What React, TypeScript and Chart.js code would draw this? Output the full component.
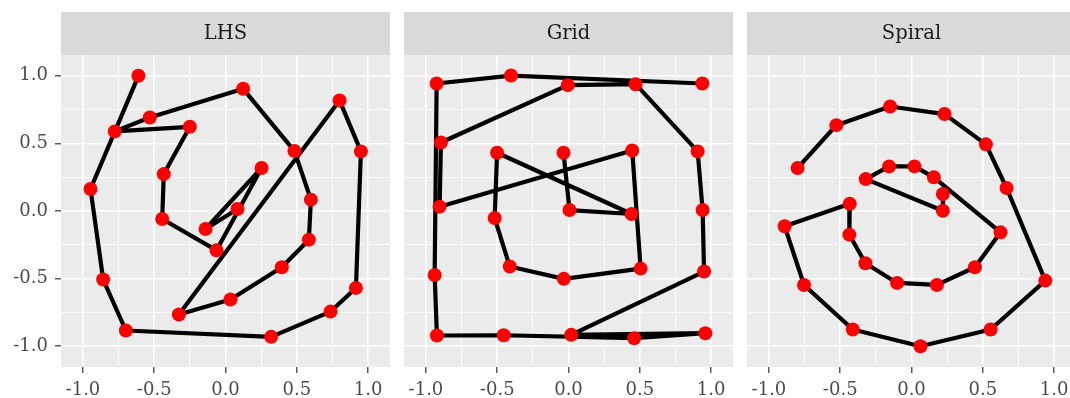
import React, { useEffect, useRef } from "react";
import { Chart, registerables } from "chart.js";

Chart.register(...registerables);

// ---- Data ----
const panelTitles = ["LHS", "Grid", "Spiral"];

const lhsX = [-0.611, -0.947, -0.858, -0.699, 0.320, 0.737, 0.915, 0.950, 0.800, -0.327, 0.035, 0.395, 0.585, 0.599, 0.484, 0.124, -0.531, -0.777, -0.250, -0.433, -0.444, -0.063, 0.253, -0.140, 0.084];
const lhsY = [1.000, 0.163, -0.507, -0.884, -0.931, -0.744, -0.569, 0.441, 0.818, -0.766, -0.655, -0.416, -0.212, 0.084, 0.443, 0.904, 0.692, 0.589, 0.623, 0.273, -0.059, -0.291, 0.318, -0.133, 0.015];

const gridX = [-0.035, 0.007, 0.443, -0.501, -0.518, -0.412, -0.033, 0.506, 0.447, -0.904, -0.895, -0.005, 0.471, 0.906, 0.941, 0.951, 0.019, 0.960, 0.461, -0.454, -0.923, -0.939, -0.925, -0.403, 0.939];
const gridY = [0.431, 0.007, -0.022, 0.431, -0.052, -0.411, -0.502, -0.426, 0.448, 0.032, 0.507, 0.931, 0.938, 0.441, 0.007, -0.448, -0.916, -0.904, -0.941, -0.919, -0.921, -0.473, 0.943, 1.002, 0.943];

const spiralX = [-0.799, -0.527, -0.150, 0.232, 0.522, 0.667, 0.939, 0.555, 0.063, -0.412, -0.754, -0.890, -0.433, -0.436, -0.323, -0.101, 0.178, 0.445, 0.625, 0.157, 0.021, -0.157, -0.321, 0.220, 0.220];
const spiralY = [0.318, 0.635, 0.773, 0.717, 0.493, 0.170, -0.515, -0.877, -1.000, -0.877, -0.547, -0.113, 0.054, -0.175, -0.387, -0.532, -0.547, -0.416, -0.158, 0.249, 0.330, 0.330, 0.236, 0.002, 0.126];

const axisMin = -1.154;
const axisMax = 1.154;
const tickStep = 0.25;

const seriesX = [lhsX, gridX, spiralX];
const seriesY = [lhsY, gridY, spiralY];

// ---- Layout ----
const panelLefts = [0, 404, 747];
const panelWidths = [390, 329, 329];
const yAxisWidths = [61, 0, 0];
const H = 398;
const FONT = '"DejaVu Serif", "Liberation Serif", serif';

const isMajor = (v: number) => Math.abs(v * 2 - Math.round(v * 2)) < 1e-6;

const stripPlugin = {
  id: "strip",
  beforeDraw(chart: any, _args: any, opts: any) {
    const { ctx, chartArea } = chart;
    ctx.save();
    ctx.fillStyle = "#EBEBEB";
    ctx.fillRect(chartArea.left, chartArea.top, chartArea.right - chartArea.left, chartArea.bottom - chartArea.top);
    ctx.fillStyle = "#D9D9D9";
    ctx.fillRect(chartArea.left, 12, chartArea.right - chartArea.left, 43);
    ctx.fillStyle = "#1A1A1A";
    ctx.font = `19.5px ${FONT}`;
    ctx.textAlign = "center";
    ctx.textBaseline = "middle";
    ctx.fillText(opts.text, (chartArea.left + chartArea.right) / 2, 34);
    ctx.restore();
  },
};

function Panel({ idx }: { idx: number }) {
  const ref = useRef<HTMLCanvasElement | null>(null);
  useEffect(() => {
    if (!ref.current) return;
    const xs = seriesX[idx];
    const ys = seriesY[idx];
    const data = xs.map((x, i) => ({ x, y: ys[i] }));
    const showY = yAxisWidths[idx] > 0;
    const gridOpts = (drawTicks: boolean) => ({
      color: "#FFFFFF",
      lineWidth: (c: any) => (c.tick && isMajor(c.tick.value) ? 1.6 : 0.8),
      drawTicks,
      tickLength: 6,
      tickWidth: 1.2,
      tickColor: (c: any) => (c.tick && isMajor(c.tick.value) ? "#333333" : "rgba(0,0,0,0)"),
    });
    const tickOpts = (display: boolean) => ({
      display,
      stepSize: tickStep,
      includeBounds: false,
      autoSkip: false,
      maxRotation: 0,
      minRotation: 0,
      padding: 7,
      color: "#4D4D4D",
      font: { family: FONT, size: 18 },
      callback: (v: any) => (isMajor(Number(v)) ? Number(v).toFixed(1) : ""),
    });
    const chart = new Chart(ref.current, {
      type: "scatter",
      data: {
        datasets: [
          {
            data,
            showLine: true,
            borderColor: "#000000",
            borderWidth: 4.2,
            borderJoinStyle: "round",
            borderCapStyle: "butt",
            backgroundColor: "#FF0000",
            pointBackgroundColor: "#FF0000",
            pointBorderWidth: 0,
            pointRadius: 7,
            pointHoverRadius: 7,
            tension: 0,
          } as any,
        ],
      },
      options: {
        animation: false,
        responsive: false,
        events: [],
        layout: { autoPadding: false, padding: { top: 55, left: 0, right: 0, bottom: 0 } },
        plugins: {
          legend: { display: false },
          tooltip: { enabled: false },
          title: { display: false },
          strip: { text: panelTitles[idx] },
        } as any,
        scales: {
          x: {
            type: "linear",
            min: axisMin,
            max: axisMax,
            border: { display: false },
            grid: gridOpts(true) as any,
            ticks: tickOpts(true) as any,
            afterFit: (s: any) => {
              s.height = 31;
              s.paddingLeft = 0;
              s.paddingRight = 0;
            },
          },
          y: {
            type: "linear",
            min: axisMin,
            max: axisMax,
            border: { display: false },
            grid: gridOpts(showY) as any,
            ticks: tickOpts(showY) as any,
            afterFit: (s: any) => {
              s.width = yAxisWidths[idx];
              s.paddingTop = 0;
              s.paddingBottom = 0;
            },
          },
        },
      },
      plugins: [stripPlugin as any],
    });
    return () => chart.destroy();
  }, [idx]);
  return (
    <canvas
      ref={ref}
      width={panelWidths[idx]}
      height={H}
      style={{ position: "absolute", left: panelLefts[idx], top: 0, width: panelWidths[idx], height: H }}
    />
  );
}

export default function App() {
  return (
    <div style={{ position: "fixed", left: 0, top: 0, width: 1070, height: 398, overflow: "hidden", background: "#FFFFFF" }}>
      {panelTitles.map((_, i) => (
        <Panel key={i} idx={i} />
      ))}
    </div>
  );
}
